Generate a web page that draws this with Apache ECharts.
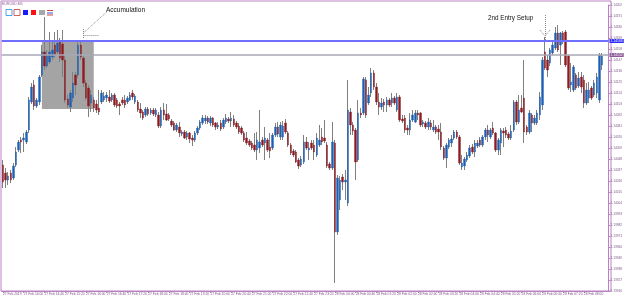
<!DOCTYPE html>
<html><head><meta charset="utf-8">
<script src="https://cdn.jsdelivr.net/npm/echarts@6/dist/echarts.min.js"></script>
<style>html,body{margin:0;padding:0;background:#fff}#c{width:625px;height:299px}</style>
</head><body><div id="c"></div>
<script>
// ---- data (prices in points: price x 100000) ----
const symbolTitle = 'EURUSD,M5';
const tickLabels = ['27 Feb 2019','27 Feb 14:00','27 Feb 14:40','27 Feb 15:20','27 Feb 16:00','27 Feb 16:40','27 Feb 17:20','27 Feb 18:00','27 Feb 18:40','27 Feb 19:20','27 Feb 20:00','27 Feb 20:40','27 Feb 21:20','27 Feb 22:00','27 Feb 22:40','27 Feb 23:20','28 Feb 00:00','28 Feb 00:40','28 Feb 01:20','28 Feb 02:00','28 Feb 02:40','28 Feb 03:20','28 Feb 04:00','28 Feb 04:40','28 Feb 05:20','28 Feb 06:00','28 Feb 06:40','28 Feb 07:20','28 Feb 08:00'];
const openPts = [
114042,114034,114027,114034,114029,114042,114057,114067,114067,114065,
114077,114105,114122,114101,114105,114132,114155,114141,114145,114150,
114162,114155,114165,114163,114147,114108,114100,114109,114132,114132,
114162,114149,114124,114119,114104,114107,114103,114099,114105,114107,
114109,114110,114107,114112,114107,114103,114107,114107,114105,114107,
114114,114105,114105,114098,114095,114092,114098,114094,114097,114092,
114092,114081,114097,114093,114092,114086,114084,114077,114080,114073,
114075,114070,114074,114069,114067,114074,114079,114084,114086,114089,
114084,114089,114084,114080,114084,114080,114085,114088,114086,114088,
114084,114081,114079,114074,114069,114066,114064,114062,114057,114059,
114067,114064,114067,114060,114059,114072,114080,114070,114070,114084,
114074,114062,114056,114055,114047,114042,114045,114065,114057,114064,
114062,114052,114062,114070,114069,114062,114043,114039,114064,113975,
114007,114030,114025,114004,114095,114082,114077,114047,114094,114094,
114127,114104,114114,114134,114120,114105,114100,114105,114102,114107,
114104,114109,114097,114110,114088,114089,114079,114077,114087,114085,
114094,114094,114083,114084,114080,114084,114077,114080,114078,114075,
114059,114049,114060,114064,114069,114075,114070,114040,114041,114047,
114051,114060,114055,114061,114067,114062,114070,114077,114070,114079,
114074,114057,114064,114076,114077,114073,114069,114077,114105,114085,
114099,114109,114080,114075,114092,114084,114084,114092,114102,114155,
114147,114144,114154,114159,114174,114162,114174,114175,114151,114122,
114117,114132,114121,114130,114127,114104,114109,114119,114112,114114,
114107,114142];
const closePts = [
114025,114027,114031,114027,114041,114055,114065,114065,114069,114075,
114107,114120,114101,114107,114130,114155,114141,114152,114155,114157,
114152,114164,114149,114147,114107,114102,114114,114124,114122,114162,
114150,114124,114109,114101,114112,114099,114097,114095,114114,114111,
114112,114106,114112,114102,114101,114101,114104,114102,114109,114112,
114110,114111,114097,114094,114089,114098,114093,114097,114093,114097,
114081,114097,114092,114087,114088,114082,114077,114082,114074,114075,
114069,114074,114068,114067,114074,114079,114085,114089,114089,114085,
114089,114082,114080,114082,114078,114087,114089,114086,114089,114082,
114080,114075,114074,114067,114064,114062,114059,114057,114067,114065,
114062,114069,114057,114056,114072,114080,114073,114082,114081,114075,
114062,114054,114052,114045,114041,114048,114065,114059,114059,114059,
114055,114069,114067,114065,114066,114041,114039,114065,113975,114029,
114027,114025,114027,114097,114082,114076,114045,114094,114092,114128,
114092,114112,114134,114120,114105,114100,114104,114102,114107,114102,
114109,114104,114110,114087,114086,114077,114077,114087,114092,114094,
114092,114082,114085,114080,114085,114080,114080,114075,114075,114060,
114049,114062,114067,114068,114075,114070,114044,114044,114048,114052,
114059,114055,114064,114064,114062,114070,114077,114072,114077,114074,
114057,114067,114077,114074,114072,114069,114076,114105,114085,114097,
114095,114075,114075,114094,114084,114089,114094,114110,114147,114139,
114137,114157,114162,114174,114157,114174,114165,114142,114119,114125,
114140,114119,114129,114120,114104,114117,114117,114109,114124,114130,
114152,114151];
const lowPts = [
114019,114019,114022,114024,114027,114040,114055,114054,114055,114063,
114074,114103,114097,114099,114102,114130,114137,114139,114143,114147,
114149,114152,114145,114130,114104,114099,114095,114105,114112,114129,
114147,114120,114107,114090,114095,114095,114094,114092,114103,114105,
114105,114104,114105,114100,114099,114092,114102,114099,114103,114106,
114107,114103,114095,114089,114087,114090,114091,114092,114091,114090,
114079,114079,114087,114086,114086,114080,114076,114075,114070,114071,
114068,114067,114064,114061,114065,114072,114077,114082,114083,114083,
114081,114080,114077,114078,114076,114078,114083,114084,114080,114080,
114078,114073,114072,114065,114062,114060,114057,114055,114047,114054,
114060,114047,114055,114049,114057,114070,114070,114067,114067,114073,
114060,114052,114050,114044,114038,114040,114043,114057,114047,114057,
114047,114050,114060,114062,114064,114039,114037,114037,113924,113972,
113997,114017,114007,114001,114072,114072,114027,114045,114089,114092,
114089,114102,114110,114117,114102,114092,114097,114095,114095,114100,
114100,114102,114095,114085,114084,114074,114072,114072,114085,114084,
114087,114080,114080,114078,114077,114077,114075,114073,114067,114057,
114047,114039,114058,114060,114067,114068,114042,114037,114037,114045,
114049,114053,114050,114059,114060,114060,114067,114065,114068,114072,
114055,114052,114052,114060,114069,114067,114067,114075,114082,114083,
114094,114064,114072,114073,114075,114082,114082,114087,114097,114137,
114130,114141,114152,114157,114155,114142,114163,114140,114117,114115,
114115,114117,114119,114114,114099,114102,114104,114107,114110,114109,
114104,114137];
const highPts = [
114047,114039,114035,114037,114044,114060,114067,114070,114074,114077,
114110,114124,114127,114109,114132,114162,114190,114157,114175,114167,
114175,114177,114169,114177,114152,114112,114117,114135,114135,114167,
114167,114151,114127,114122,114117,114110,114107,114117,114117,114115,
114115,114117,114114,114114,114109,114105,114110,114112,114111,114115,
114117,114113,114107,114104,114097,114100,114100,114099,114099,114099,
114095,114100,114104,114103,114094,114088,114086,114084,114085,114077,
114077,114076,114075,114072,114076,114081,114087,114092,114092,114091,
114091,114090,114085,114085,114087,114089,114093,114090,114095,114092,
114086,114084,114081,114076,114075,114068,114066,114074,114075,114097,
114070,114080,114069,114074,114074,114084,114085,114085,114086,114088,
114076,114064,114058,114057,114049,114051,114072,114070,114065,114067,
114067,114074,114082,114079,114087,114065,114045,114085,114067,114032,
114031,114033,114037,114127,114099,114085,114079,114107,114099,114130,
114130,114120,114139,114137,114124,114114,114109,114108,114110,114109,
114114,114111,114114,114112,114092,114092,114082,114094,114097,114097,
114097,114095,114087,114086,114089,114087,114087,114082,114082,114084,
114061,114064,114069,114072,114077,114077,114072,114052,114050,114055,
114062,114063,114067,114067,114070,114072,114079,114082,114079,114085,
114075,114069,114079,114079,114080,114075,114082,114107,114107,114112,
114112,114147,114082,114097,114094,114092,114097,114115,114150,114170,
114152,114159,114165,114180,114182,114175,114176,114177,114152,114144,
114142,114134,114135,114135,114132,114124,114125,114121,114127,114134,
114154,114154];
const blueLevel = 114166;
const grayLevel = 114152;
const zone = {from: 15, to: 35, top: 114166, bottom: 114098};
const priceAxis = {min: 113916, max: 114202, step: 11};

// ---- chart ----
const slots = 234;
const categories = Array.from({length: slots}, (_, i) => 'b' + i);
const every = 8;
const isTick = i => i % every === 0 && (i / every) < tickLabels.length;
const fmtPrice = v => (v / 100000).toFixed(5);
const purple = '#bb80c4';
const axisText = '#7a5a86';
const font = 'Liberation Sans, Arial, sans-serif';

const wicks = openPts.map((o, i) => [lowPts[i], highPts[i], lowPts[i], highPts[i]]);
const bodies = openPts.map((o, i) => [o, closePts[i], Math.min(o, closePts[i]), Math.max(o, closePts[i])]);

const chart = echarts.init(document.getElementById('c'), null, {renderer: 'canvas'});
chart.setOption({
  animation: false,
  backgroundColor: '#ffffff',
  grid: [
    {left: 0.5, top: 5, width: 610.5, height: 286},
    {left: 1, top: 1, width: 610, height: 290, show: true, borderColor: purple, borderWidth: 1, backgroundColor: 'transparent'}
  ],
  xAxis: [
    {type: 'category', gridIndex: 0, data: categories, boundaryGap: true,
     axisLine: {show: true, lineStyle: {color: purple}},
     axisTick: {show: true, interval: i => isTick(i), alignWithLabel: true, length: 2, lineStyle: {color: purple}},
     axisLabel: {interval: i => isTick(i), showMinLabel: true, formatter: (v, i) => tickLabels[i / every] || '', fontSize: 3.3, color: axisText, align: 'left', margin: 2, fontFamily: font},
     splitLine: {show: false}},
    {type: 'value', gridIndex: 1, show: false}
  ],
  yAxis: [
    {type: 'value', gridIndex: 0, position: 'right', min: priceAxis.min, max: priceAxis.max, interval: priceAxis.step,
     axisLine: {show: true, lineStyle: {color: purple}},
     axisTick: {show: true, length: 2, lineStyle: {color: purple}},
     axisLabel: {fontSize: 3.2, color: axisText, margin: 2, formatter: fmtPrice, fontFamily: font},
     splitLine: {show: false}},
    {type: 'value', gridIndex: 1, show: false}
  ],
  series: [
    {type: 'line', data: [], xAxisIndex: 0, yAxisIndex: 0, silent: true,
     markArea: {silent: true, itemStyle: {color: '#a4a4a4'},
       data: [[{xAxis: zone.from, yAxis: zone.top}, {xAxis: zone.to, yAxis: zone.bottom}]]}},
    {type: 'candlestick', name: 'wick', data: wicks, barWidth: 0.2, silent: true,
     itemStyle: {color: '#808080', color0: '#808080', borderColor: '#808080', borderColor0: '#808080', borderWidth: 1}},
    {type: 'candlestick', name: 'body', data: bodies, barWidth: 2, silent: true,
     itemStyle: {color: '#1d5fb3', color0: '#8c1c22', borderColor: '#1d5fb3', borderColor0: '#8c1c22', borderWidth: 0.4}},
    {type: 'line', data: [], xAxisIndex: 0, yAxisIndex: 0, silent: true,
     markLine: {silent: true, symbol: 'none', animation: false,
       data: [
         {yAxis: blueLevel, lineStyle: {color: '#6e6eff', width: 2, type: 'solid'},
          label: {show: true, position: 'end', distance: 1, formatter: fmtPrice(blueLevel), backgroundColor: '#2a2aff', color: '#fff', fontSize: 3.4, padding: [1, 1, 0, 1], fontFamily: font}},
         {yAxis: grayLevel, lineStyle: {color: '#a9a9b6', width: 1.5, type: 'solid'},
          label: {show: true, position: 'end', distance: 1, formatter: fmtPrice(grayLevel), backgroundColor: '#8c5a96', color: '#fff', fontSize: 3.4, padding: [1, 1, 0, 1], fontFamily: font}},
         [{coord: [40, 114195]}, {coord: [31, 114174], lineStyle: {color: '#8a8a8a', width: 1, type: 'dotted'}, label: {show: false}}],
         [{coord: [31, 114172]}, {coord: [37, 114172], lineStyle: {color: '#8a8a8a', width: 1, type: 'dotted'}, label: {show: false}}],
         [{coord: [31, 114178]}, {coord: [31, 114169], lineStyle: {color: '#8a8a8a', width: 1, type: 'dotted'}, label: {show: false}}],
         [{coord: [209, 114192]}, {coord: [209, 114166], lineStyle: {color: '#8a8a8a', width: 1, type: 'dotted'}, label: {show: false}}],
         [{coord: [207, 114177]}, {coord: [209, 114171], lineStyle: {color: '#8a8a8a', width: 1, type: 'dotted'}, label: {show: false}}],
         [{coord: [211, 114177]}, {coord: [209, 114171], lineStyle: {color: '#8a8a8a', width: 1, type: 'dotted'}, label: {show: false}}]
       ]}}
  ],
  graphic: [
    {type: 'text', left: 2, top: 2, style: {text: symbolTitle, fontSize: 3.5, fill: '#8a5a90', fontFamily: font}},
    {type: 'rect', shape: {x: 6, y: 9.5, width: 6, height: 6}, style: {fill: '#ffffff', stroke: '#4aa3f0', lineWidth: 1}},
    {type: 'rect', shape: {x: 14, y: 9.5, width: 6, height: 6}, style: {fill: '#ffffff', stroke: '#d06060', lineWidth: 1}},
    {type: 'rect', shape: {x: 23, y: 10, width: 5, height: 5}, style: {fill: '#1a1aff'}},
    {type: 'rect', shape: {x: 31, y: 10, width: 5, height: 5}, style: {fill: '#ff1010'}},
    {type: 'rect', shape: {x: 39, y: 10, width: 6, height: 5}, style: {fill: '#a8a8a8'}},
    {type: 'line', shape: {x1: 47, y1: 10.5, x2: 53, y2: 10.5}, style: {stroke: '#d04040', lineWidth: 1}},
    {type: 'line', shape: {x1: 47, y1: 13, x2: 53, y2: 13}, style: {stroke: '#3050d0', lineWidth: 1}},
    {type: 'line', shape: {x1: 47, y1: 15, x2: 53, y2: 15}, style: {stroke: '#d04040', lineWidth: 1}},
    {type: 'text', left: 106, top: 6.5, style: {text: 'Accumulation', fontSize: 6.5, fill: '#111', fontFamily: font}},
    {type: 'text', left: 488, top: 15, style: {text: '2nd Entry Setup', fontSize: 6.3, fill: '#111', fontFamily: font}}
  ]
});
</script>
</body></html>
